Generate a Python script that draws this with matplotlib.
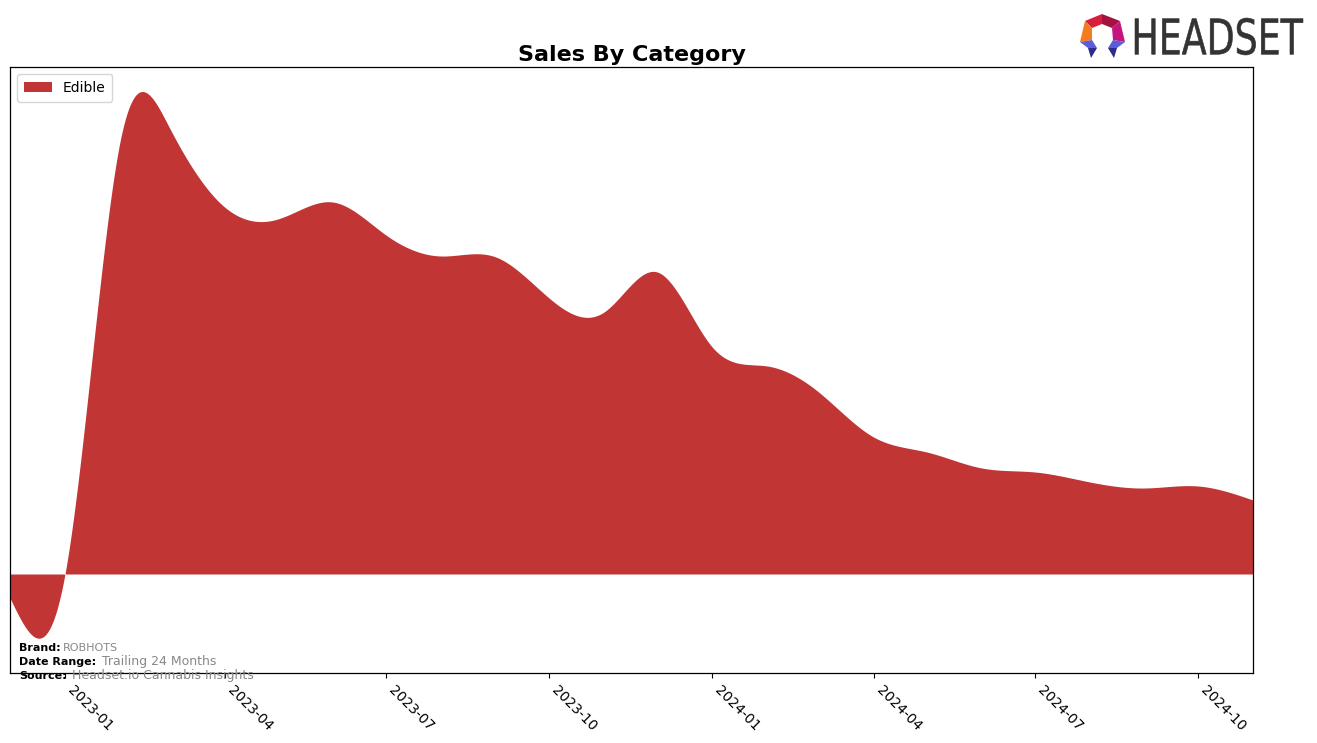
import numpy as np
import pandas as pd
import matplotlib
matplotlib.use("Agg")
import matplotlib.pyplot as plt
import matplotlib.dates as mdates
from matplotlib.patches import Polygon, PathPatch
from matplotlib.textpath import TextPath
from matplotlib.font_manager import FontProperties
from matplotlib.transforms import Affine2D

# ---------------- data ----------------
months = pd.date_range("2022-12-01", "2024-11-01", freq="MS")
edible_sales = [-24, 0, 432, 446, 367, 355, 372, 339, 318, 317, 276, 262,
                302, 227, 208, 182, 137, 122, 106, 102, 92, 86, 88, 74]
category = "Edible"
tick_months = [1, 4, 7, 10]
brand = "ROBHOTS"
date_range = "Trailing 24 Months"
source = "Headset.io Cannabis Insights"

FILL = "#C13535"


def natural_spline(x, y, xs):
    x = np.asarray(x, float)
    y = np.asarray(y, float)
    n = len(x)
    h = np.diff(x)
    A = np.zeros((n, n))
    b = np.zeros(n)
    A[0, 0] = 1
    A[-1, -1] = 1
    for i in range(1, n - 1):
        A[i, i - 1] = h[i - 1]
        A[i, i] = 2 * (h[i - 1] + h[i])
        A[i, i + 1] = h[i]
        b[i] = 6 * ((y[i + 1] - y[i]) / h[i] - (y[i] - y[i - 1]) / h[i - 1])
    M = np.linalg.solve(A, b)
    idx = np.clip(np.searchsorted(x, xs) - 1, 0, n - 2)
    x0, x1 = x[idx], x[idx + 1]
    hh = x1 - x0
    t0 = x1 - xs
    t1 = xs - x0
    return (M[idx] * t0 ** 3 / (6 * hh) + M[idx + 1] * t1 ** 3 / (6 * hh)
            + (y[idx] / hh - M[idx] * hh / 6) * t0
            + (y[idx + 1] / hh - M[idx + 1] * hh / 6) * t1)


W, H = 1317, 743
fig = plt.figure(figsize=(W / 100, H / 100), dpi=100)
ax = fig.add_axes([10 / W, 1 - 673 / H, (1253 - 10) / W, (673 - 67) / H])

xnum = mdates.date2num(months)
xs = np.linspace(xnum[0], xnum[-1], 1500)
ys = natural_spline(xnum, edible_sales, xs)
ax.fill_between(mdates.num2date(xs), 0, ys, color=FILL, linewidth=0, label=category)

ax.set_xlim(months[0], months[-1])
ax.set_ylim(-99, 507)
ax.set_yticks([])
ax.xaxis.set_major_locator(mdates.MonthLocator(bymonth=tick_months))
ax.xaxis.set_major_formatter(mdates.DateFormatter("%Y-%m"))
for lab in ax.get_xticklabels():
    lab.set_rotation(-45)
    lab.set_ha("left")
    lab.set_fontsize(10)
for s in ax.spines.values():
    s.set_linewidth(0.9)

ax.set_title("Sales By Category", fontsize=16, fontweight="bold", pad=4)
ax.legend(loc="upper left", fontsize=10, frameon=True, handlelength=2,
          borderpad=0.5, bbox_to_anchor=(0.0, 1.0))

# footer
def ftxt(x, y, s, **kw):
    fig.text(x / W, 1 - y / H, s, va="center", ha="left", **kw)

ftxt(19, 648, "Brand:", fontsize=8, fontweight="bold")
ftxt(63, 648, brand, fontsize=8, color="#888888")
ftxt(19, 662, "Date Range:", fontsize=8, fontweight="bold")
ftxt(102, 662, date_range, fontsize=9, color="#888888")
ftxt(19, 676, "Source:", fontsize=8, fontweight="bold")
ftxt(72, 676, source, fontsize=9, color="#888888")

# logo
def fp(pts):
    return [(px / W, 1 - py / H) for px, py in pts]

segs = [
    ([(1085, 21), (1102, 14), (1102, 24), (1092, 28)], "#D81E3A"),
    ([(1102, 14), (1120, 21), (1112, 28), (1102, 24)], "#A3133F"),
    ([(1085, 21), (1092, 28), (1092, 40), (1080, 42)], "#F47B20"),
    ([(1120, 21), (1125, 42), (1113, 40), (1112, 28)], "#C4157F"),
    ([(1080, 42), (1092, 40), (1097, 48), (1088, 48)], "#5B5BDB"),
    ([(1088, 48), (1097, 48), (1091, 58)], "#2C2C8C"),
    ([(1125, 42), (1113, 40), (1108, 48), (1117, 48)], "#5B5BDB"),
    ([(1117, 48), (1108, 48), (1114, 58)], "#2C2C8C"),
]
for pts, c in segs:
    fig.patches.append(Polygon(fp(pts), closed=True, transform=fig.transFigure,
                               facecolor=c, edgecolor="none"))

tp = TextPath((0, 0), "HEADSET", size=100, prop=FontProperties(family="DejaVu Sans"))
ext = tp.get_extents()
x0, x1, y0, y1 = 1135, 1303, 18, 55
sx = (x1 - x0) / ext.width
sy = (y1 - y0) / ext.height
tr = Affine2D().translate(-ext.x0, -ext.y0).scale(sx / W, sy / H).translate(x0 / W, 1 - y1 / H)
fig.patches.append(PathPatch(tr.transform_path(tp), transform=fig.transFigure,
                             facecolor="#333333", edgecolor="#333333", linewidth=0.4))

fig.savefig("out.png", dpi=100)
